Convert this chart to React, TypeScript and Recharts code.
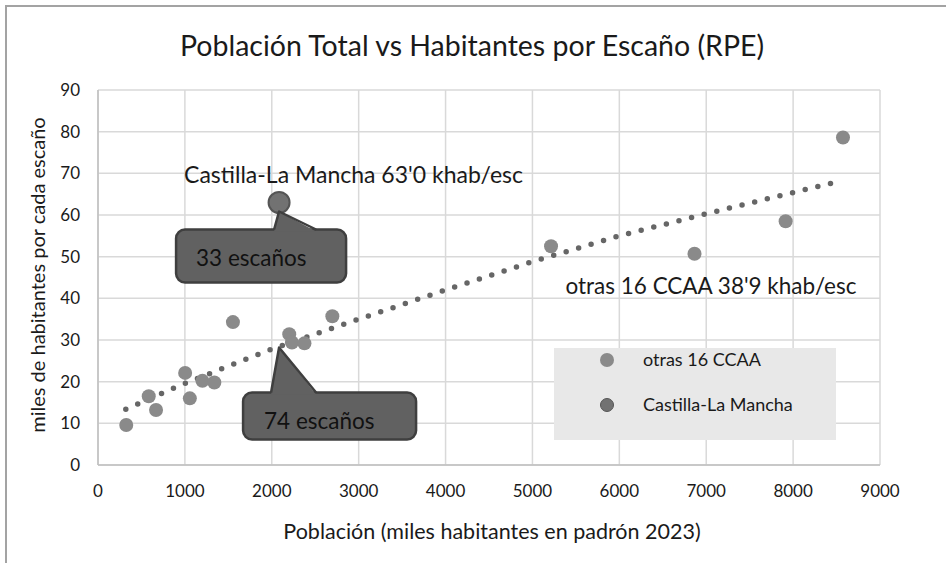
import React from 'react';
import {
  ScatterChart,
  Scatter,
  XAxis,
  YAxis,
  CartesianGrid,
  ReferenceDot,
} from 'recharts';

// población (miles) y miles de habitantes por escaño
const OTRAS_POB = [325, 584, 668, 1003, 1057, 1202, 1339, 1553, 2201, 2232, 2376, 2697, 5214, 6865, 7914, 8574];
const OTRAS_KHAB = [9.6, 16.5, 13.2, 22.1, 16.0, 20.2, 19.8, 34.3, 31.4, 29.4, 29.2, 35.7, 52.5, 50.7, 58.5, 78.6];

const CLM_POB = [2084];
const CLM_KHAB = [63.0];

// línea de tendencia
const TREND_X = [320, 1000, 2000, 3000, 4000, 5000, 6000, 7000, 8000, 8500];
const TREND_Y = [13.4, 19.6, 27.8, 35.0, 42.0, 48.8, 55.0, 60.3, 65.4, 67.9];

const X_TICKS = [0, 1000, 2000, 3000, 4000, 5000, 6000, 7000, 8000, 9000];
const Y_TICKS = [0, 10, 20, 30, 40, 50, 60, 70, 80, 90];

const TREND_AT_CLM = 28.2; // valor de la tendencia en la población de CLM

const FONT = 'Lato, "Open Sans", sans-serif';
const TEXT = '#1a1a1a';

const otras = OTRAS_POB.map((x, i) => ({ x, y: OTRAS_KHAB[i] }));
const clm = CLM_POB.map((x, i) => ({ x, y: CLM_KHAB[i] }));
const trend = TREND_X.map((x, i) => ({ x, y: TREND_Y[i] }));

function Callout({ cx, cy, box, base, label, textDx, textDy }: any) {
  const [x1, y1, x2, y2] = box;
  return (
    <g>
      <rect
        x={cx + x1}
        y={cy + y1}
        width={x2 - x1}
        height={y2 - y1}
        rx={9}
        fill="#616161"
        stroke="#3f3f3f"
        strokeWidth={2.5}
      />
      <polygon
        points={`${cx + base[0]},${cy + y1 + 2} ${cx + base[2]},${cy + base[3]} ${cx + base[1]},${cy + y1 + 2}`}
        fill="#616161"
      />
      <polyline
        points={`${cx + base[0]},${cy + y1} ${cx + base[2]},${cy + base[3]} ${cx + base[1]},${cy + y1}`}
        fill="none"
        stroke="#3f3f3f"
        strokeWidth={2.5}
        strokeLinejoin="round"
      />
      <text
        x={cx + textDx}
        y={cy + textDy}
        dominantBaseline="central"
        fontSize={22.5}
        fontFamily={FONT}
        fill="#111"
      >
        {label}
      </text>
    </g>
  );
}

export default function App() {
  return (
    <div style={{ position: 'absolute', left: 0, top: 0, width: 946, height: 563, background: '#fff', fontFamily: FONT }}>
      <div
        style={{
          position: 'absolute',
          left: 5,
          top: 5,
          width: 941,
          height: 558,
          borderTop: '2px solid #a3a3a3',
          borderLeft: '2px solid #a3a3a3',
        }}
      />
      <div style={{ position: 'absolute', left: 0, width: 944, top: 27, textAlign: 'center', fontSize: 28.5, color: TEXT, lineHeight: '36px' }}>
        Población Total vs Habitantes por Escaño (RPE)
      </div>
      <div style={{ position: 'absolute', left: 0, width: 984, top: 517, textAlign: 'center', fontSize: 21.5, color: TEXT, lineHeight: '28px' }}>
        Población (miles habitantes en padrón 2023)
      </div>
      <div
        style={{
          position: 'absolute',
          left: 37 - 200,
          top: 275 - 12,
          width: 400,
          textAlign: 'center',
          fontSize: 20,
          color: TEXT,
          lineHeight: '24px',
          transform: 'rotate(-90deg)',
        }}
      >
        miles de habitantes por cada escaño
      </div>
      <div style={{ position: 'absolute', left: 0, top: 0 }}>
        <ScatterChart width={946} height={563} margin={{ top: 90, right: 66, bottom: 58, left: 38 }}>
          <CartesianGrid stroke="#d9d9d9" strokeWidth={1.5} />
          <XAxis
            type="number"
            dataKey="x"
            domain={[0, 9000]}
            ticks={X_TICKS}
            height={40}
            tickLine={false}
            tickMargin={14}
            axisLine={{ stroke: '#bfbfbf', strokeWidth: 1.5 }}
            tick={{ fontSize: 17, fill: TEXT, fontFamily: FONT }}
          />
          <YAxis
            type="number"
            dataKey="y"
            domain={[0, 90]}
            ticks={Y_TICKS}
            width={60}
            tickLine={false}
            tickMargin={12}
            axisLine={{ stroke: '#bfbfbf', strokeWidth: 1.5 }}
            tick={{ fontSize: 17, fill: TEXT, fontFamily: FONT }}
          />
          <Scatter
            data={trend}
            isAnimationActive={false}
            line={{ stroke: '#666666', strokeWidth: 5.5, strokeDasharray: '0 13', strokeLinecap: 'round' }}
            lineType="joint"
            shape={() => <g />}
          />
          <Scatter
            data={otras}
            isAnimationActive={false}
            shape={(p: any) => <circle cx={p.cx} cy={p.cy} r={7} fill="#8a8a8a" />}
          />
          <Scatter
            data={clm}
            isAnimationActive={false}
            shape={(p: any) => <circle cx={p.cx} cy={p.cy} r={10.5} fill="#727272" stroke="#555" strokeWidth={2} />}
          />
          <ReferenceDot
            x={CLM_POB[0]}
            y={CLM_KHAB[0]}
            r={0}
            isFront
            shape={(p: any) => (
              <g>
                <Callout
                  cx={p.cx}
                  cy={p.cy}
                  box={[-103, 27, 67, 80]}
                  base={[-5, 37, 0, 9]}
                  label="33 escaños"
                  textDx={-83}
                  textDy={55}
                />
                <text x={p.cx - 95} y={p.cy - 29} dominantBaseline="central" fontSize={23} fontFamily={FONT} fill={TEXT}>
                  Castilla-La Mancha 63'0 khab/esc
                </text>
              </g>
            )}
          />
          <ReferenceDot
            x={CLM_POB[0]}
            y={TREND_AT_CLM}
            r={0}
            isFront
            shape={(p: any) => (
              <Callout
                cx={p.cx}
                cy={p.cy}
                box={[-36, 45, 137, 92]}
                base={[-8, 37, 0, 0]}
                label="74 escaños"
                textDx={-15}
                textDy={73}
              />
            )}
          />
          <ReferenceDot
            x={5380}
            y={43}
            r={0}
            isFront
            shape={(p: any) => (
              <text x={p.cx} y={p.cy} dominantBaseline="central" fontSize={22.5} fontFamily={FONT} fill={TEXT}>
                otras 16 CCAA 38'9 khab/esc
              </text>
            )}
          />
        </ScatterChart>
      </div>
      <div
        style={{
          position: 'absolute',
          left: 554,
          top: 348,
          width: 282,
          height: 92,
          background: '#e8e8e8',
          fontSize: 18,
          color: TEXT,
        }}
      >
        <div style={{ position: 'absolute', left: 46, top: 5, width: 14, height: 14, borderRadius: 7, background: '#8a8a8a' }} />
        <div style={{ position: 'absolute', left: 89, top: -1, lineHeight: '24px' }}>otras 16 CCAA</div>
        <div style={{ position: 'absolute', left: 46, top: 50, width: 12, height: 12, borderRadius: 7, background: '#727272', border: '1px solid #555' }} />
        <div style={{ position: 'absolute', left: 89, top: 44, lineHeight: '24px' }}>Castilla-La Mancha</div>
      </div>
    </div>
  );
}
